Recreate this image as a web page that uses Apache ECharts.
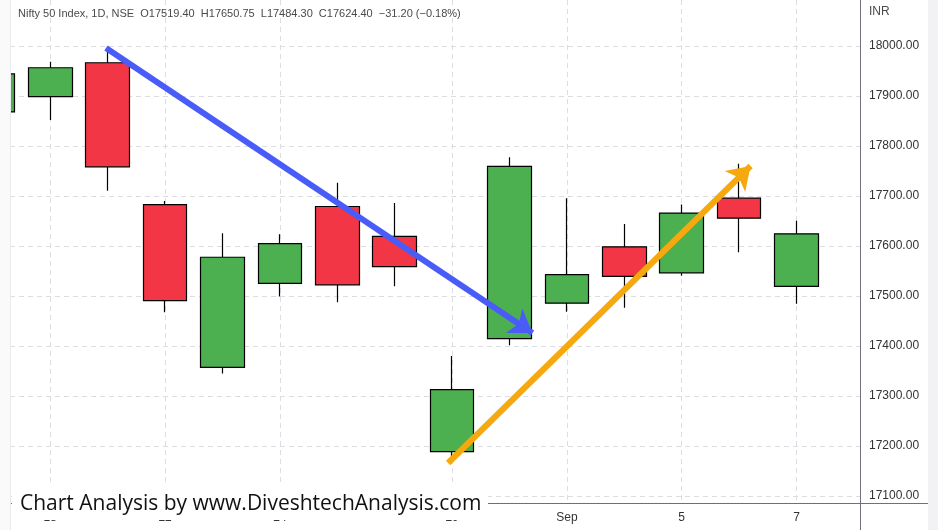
<!DOCTYPE html>
<html>
<head>
<meta charset="utf-8">
<title>Nifty 50 Index, 1D</title>
<script src="https://cdn.jsdelivr.net/npm/echarts@6/dist/echarts.min.js"></script>
<style>
  html, body { margin: 0; padding: 0; background: #fff; }
  #chart { width: 938px; height: 530px; }
</style>
</head>
<body>
<div id="chart"></div>
<script>
// trading days, 17 Aug -> 7 Sep 2022
var days = ['17', '18', '19', '22', '23', '24', '25', '26', '29', '30', 'Sep', '2', '5', '6', '7'];
var opens = [17868.15, 17898.65, 17966.55, 17682.90, 17357.35, 17525.45, 17679.00, 17619.30,
  17188.65, 17414.95, 17485.70, 17598.40, 17546.45, 17695.70, 17519.40];
var closes = [17944.25, 17956.50, 17758.45, 17490.70, 17577.50, 17604.95, 17522.45, 17558.90,
  17312.90, 17759.30, 17542.80, 17539.45, 17665.80, 17655.60, 17624.40];
var lows = [17833.35, 17852.05, 17710.75, 17467.35, 17345.20, 17499.25, 17487.45, 17519.35,
  17166.20, 17401.50, 17468.45, 17476.45, 17540.35, 17587.65, 17484.30];
var highs = [17965.95, 17968.45, 17992.20, 17690.05, 17625.55, 17623.65, 17726.50, 17685.85,
  17380.15, 17777.65, 17695.60, 17643.85, 17683.15, 17764.65, 17650.75];

// which days get a date label on the time scale
var labelDays = [1, 3, 5, 8, 10, 12, 14];
var priceTicks = [17100, 17200, 17300, 17400, 17500, 17600, 17700, 17800, 17900, 18000];

// hand drawn trend arrows: [dayIndex, price]
var downArrow = [[1.97, 17996], [9.40, 17426]];
var upArrow = [[7.93, 17166], [13.20, 17760]];

var GREEN = '#4caf50';
var RED = '#f23645';
var AXIS = '#6f717a';

var candles = days.map(function(d, i) {
  var up = closes[i] >= opens[i];
  return {
    value: [i, opens[i], closes[i], lows[i], highs[i]],
    itemStyle: {
      color: up ? GREEN : RED,
      color0: up ? GREEN : RED,
      borderColor: '#000',
      borderColor0: '#000'
    }
  };
});

var last = closes.length - 1;
var chg = closes[last] - closes[last - 1];
var header = 'Nifty 50 Index, 1D, NSE  O' + opens[last].toFixed(2) +
  '  H' + highs[last].toFixed(2) + '  L' + lows[last].toFixed(2) +
  '  C' + closes[last].toFixed(2) + '  \u2212' + Math.abs(chg).toFixed(2) +
  ' (\u2212' + Math.abs(chg / closes[last - 1] * 100).toFixed(2) + '%)';

var chart = echarts.init(document.getElementById('chart'));

chart.setOption({
  animation: false,
  backgroundColor: '#fff',
  textStyle: { fontFamily: 'Liberation Sans, Arial, sans-serif' },
  grid: { left: 10, right: 78, top: 0, bottom: 27 },
  xAxis: {
    type: 'value',
    min: 0.298,
    max: 15.106,
    axisLine: { show: true, lineStyle: { color: AXIS, width: 1 } },
    axisTick: { show: false, customValues: labelDays },
    axisLabel: {
      customValues: labelDays,
      color: '#333',
      fontSize: 12,
      margin: 9,
      formatter: function(v) { return days[Math.round(v)]; }
    },
    splitLine: { show: true, lineStyle: { color: '#dcdde3', type: [5, 4] } }
  },
  yAxis: {
    type: 'value',
    position: 'right',
    min: 17086,
    max: 18092,
    axisLine: { show: true, lineStyle: { color: AXIS, width: 1 } },
    axisTick: { show: false, customValues: priceTicks },
    axisLabel: {
      customValues: priceTicks,
      color: '#333',
      fontSize: 12,
      margin: 9,
      formatter: function(v) { return v.toFixed(2); }
    },
    splitLine: { show: true, lineStyle: { color: '#dcdde3', type: [5, 4] } }
  },
  series: [{
    type: 'candlestick',
    barWidth: 44,
    clip: true,
    itemStyle: { borderWidth: 1.2 },
    data: candles,
    markLine: {
      silent: true,
      symbol: ['none', 'none'],
      lineStyle: { opacity: 0 },
      label: {
        position: 'end',
        distance: 0,
        color: '#fff',
        fontSize: 12,
        backgroundColor: GREEN,
        padding: [3, 6, 2, 9],
        formatter: function() { return closes[last].toFixed(2); }
      },
      data: [{ yAxis: closes[last] }]
    }
  }, {
    type: 'lines',
    coordinateSystem: 'cartesian2d',
    polyline: false,
    symbol: ['none', 'arrow'],
    symbolSize: [18, 22],
    silent: true,
    z: 5,
    data: [{
      coords: downArrow,
      lineStyle: { color: '#4a5cf7', width: 6, opacity: 1 }
    }, {
      coords: upArrow,
      lineStyle: { color: '#f5a90f', width: 6, opacity: 1 }
    }]
  }],
  graphic: [
    { type: 'rect', left: 928, top: 0, z: 50, shape: { width: 10, height: 530 }, style: { fill: '#f2f2f4' }, silent: true },
    { type: 'rect', left: 0, top: 0, z: 50, shape: { width: 10, height: 530 }, style: { fill: '#fafafb' }, silent: true },
    { type: 'line', z: 50, shape: { x1: 10.5, y1: 0, x2: 10.5, y2: 530 }, style: { stroke: '#ebebef', lineWidth: 1 }, silent: true },
    { type: 'line', z: 50, shape: { x1: 860, y1: 503.5, x2: 928, y2: 503.5 }, style: { stroke: AXIS, lineWidth: 1 }, silent: true },
    { type: 'line', z: 50, shape: { x1: 860.5, y1: 503, x2: 860.5, y2: 530 }, style: { stroke: AXIS, lineWidth: 1 }, silent: true },
    { type: 'text', left: 18, top: 8, z: 60, style: { text: header, fill: '#4a4a4a', font: '11px Liberation Sans, Arial, sans-serif' } },
    { type: 'text', left: 869, top: 6, z: 60, style: { text: 'INR', fill: '#4a4a4a', font: '12px Liberation Sans, Arial, sans-serif' } },
    { type: 'rect', left: 12, top: 486, z: 100, shape: { width: 476, height: 34 }, style: { fill: '#fff' }, silent: true },
    { type: 'text', left: 20, top: 494, z: 101, style: { text: 'Chart Analysis by www.DiveshtechAnalysis.com', fill: '#111', font: '21px Open Sans, Noto Sans, sans-serif' } }
  ]
});
</script>
</body>
</html>
